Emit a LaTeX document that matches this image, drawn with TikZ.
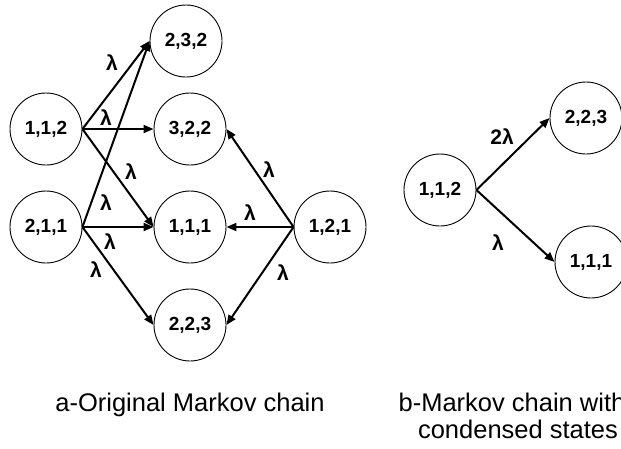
\documentclass[tikz,border=0pt]{standalone}
\usepackage{fontspec}
\setmainfont{Liberation Sans}
\usetikzlibrary{arrows.meta}
\begin{document}
\begin{tikzpicture}[x=1pt,y=-1pt,
  state/.style={circle,draw,line width=0.9pt,minimum size=72pt,inner sep=0pt,font=\fontsize{19}{22}\selectfont\bfseries},
  arr/.style={line width=2pt,-{Triangle[length=10pt,width=8pt]}},
  lab/.style={inner sep=0pt,font=\fontsize{21}{24}\selectfont\bfseries},
  captext/.style={inner sep=0pt,anchor=base,font=\fontsize{25.5}{30}\selectfont}]
\useasboundingbox (0,0) rectangle (621,448);
\clip (0,0) rectangle (621,448);
% left chain
\node[state] (a232) at (186,41) {2,3,2};
\node[state] (a112) at (46,129) {1,1,2};
\node[state] (a322) at (190,129) {3,2,2};
\node[state] (a211) at (46,227) {2,1,1};
\node[state] (a111) at (190,227) {1,1,1};
\node[state] (a223) at (190,325) {2,2,3};
\node[state] (a121) at (330,227) {1,2,1};
\draw[arr] (a112.east) -- (a232.west);
\draw[arr] (a112.east) -- (a322.west);
\draw[arr] (a112.east) -- (a111.west);
\draw[arr] (a211.east) -- (a232.west);
\draw[arr] (a211.east) -- (a111.west);
\draw[arr] (a211.east) -- (a223.west);
\draw[arr] (a121.west) -- (a322.east);
\draw[arr] (a121.west) -- (a111.east);
\draw[arr] (a121.west) -- (a223.east);
\node[lab] (l1) at (112,63) {λ};
\node[lab] (l2) at (106,118) {λ};
\node[lab] (l3) at (131,172) {λ};
\node[lab] (l4) at (106,203) {λ};
\node[lab] (l5) at (110,242) {λ};
\node[lab] (l6) at (96,270) {λ};
\node[lab] (l7) at (269,170) {λ};
\node[lab] (l8) at (250,213) {λ};
\node[lab] (l9) at (283,273) {λ};
% right chain
\node[state] (b112) at (440,190) {1,1,2};
\node[state] (b223) at (586,118) {2,2,3};
\node[state] (b111) at (591,262) {1,1,1};
\draw[arr] (b112.east) -- (b223.west);
\draw[arr] (b112.east) -- (b111.west);
\node[lab] (r1) at (502,137) {2λ};
\node[lab] (r2) at (498,243) {λ};
% captions
\node[captext] (ca) at (190,411) {a-Original Markov chain};
\node[captext] (cb1) at (512,411) {b-Markov chain with};
\node[captext] (cb2) at (518,438) {condensed states};
\end{tikzpicture}
\end{document}
